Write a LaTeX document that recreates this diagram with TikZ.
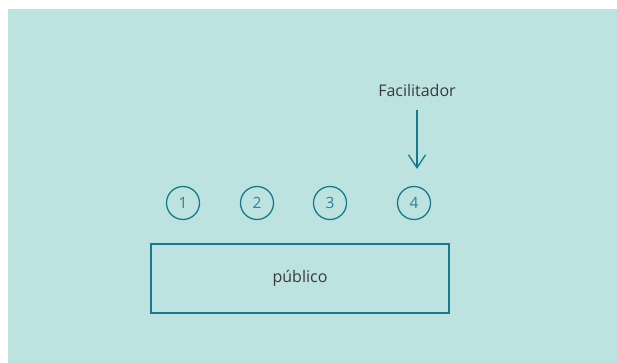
\documentclass[tikz,border=0pt]{standalone}
\usepackage{fontspec}
\setmainfont{Open Sans}
\usetikzlibrary{arrows.meta}
\definecolor{bgteal}{HTML}{BCE3E0}
\definecolor{lineteal}{HTML}{177A8C}
\definecolor{numteal}{HTML}{2E8496}
\definecolor{txtgray}{HTML}{3A3A3A}
\tikzset{
  seat/.style={circle, draw=lineteal, line width=1.3pt, minimum size=33pt, inner sep=0pt,
    text=numteal, font=\fontsize{15.5}{16}\selectfont},
  audience/.style={draw=lineteal, line width=1.5pt, minimum width=298pt, minimum height=69pt,
    inner sep=0pt, text=txtgray, font=\fontsize{16}{17}\selectfont},
  label/.style={text=txtgray, font=\fontsize{16}{17}\selectfont},
  pointer/.style={draw=lineteal, line width=1.3pt, -{Straight Barb[length=13pt, width=17pt, line width=1.3pt]}}
}
\begin{document}
\begin{tikzpicture}[x=1pt, y=-1pt]
  \useasboundingbox (0,0) rectangle (617,363);
  \fill[white] (0,0) rectangle (617,363);
  \fill[bgteal] (8,9) rectangle (617,363);
  % seats
  \node[seat] (s1) at (183,203) {1};
  \node[seat] (s2) at (257,203) {2};
  \node[seat] (s3) at (330,203) {3};
  \node[seat] (s4) at (414,203) {4};
  % audience block
  \node[audience] (pub) at (300,278.5) {público};
  % facilitator label and arrow
  \node[label] (fac) at (417,91) {Facilitador};
  \coordinate (top) at (417,110);
  \coordinate (tip) at (417,169);
  \draw[pointer] (top) -- (tip);
\end{tikzpicture}
\end{document}
